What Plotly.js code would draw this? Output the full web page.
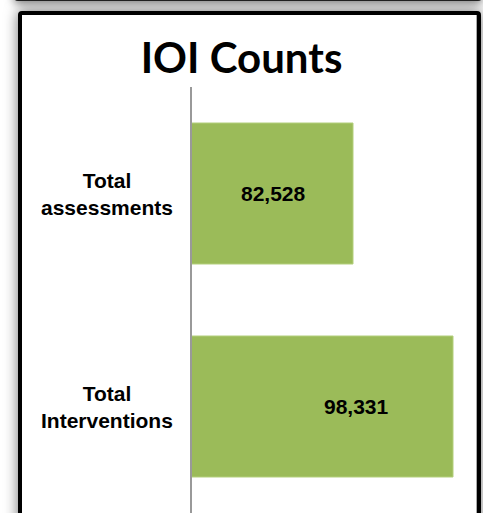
<!DOCTYPE html>
<html>
<head>
<meta charset="utf-8">
<script src="https://cdn.plot.ly/plotly-3.0.1.min.js"></script>
<style>
  html, body { margin:0; padding:0; width:483px; height:513px; overflow:hidden; background:#fff; }
  #prev { position:absolute; left:14px; top:-40px; width:462px; height:35px; border:3px solid #222; border-radius:4px; box-shadow:0 2px 10px rgba(0,0,0,0.55); background:#fff; }
  #frame { position:absolute; left:18px; top:11px; width:455px; height:600px; border:4px solid #000; border-radius:4px; box-shadow:0 0 14px rgba(0,0,0,0.55), inset -1px 0 0 #aaa; background:#fff; }
  #chart { position:absolute; left:0; top:0; width:483px; height:513px; }
</style>
</head>
<body>
<div id="prev"></div>
<div id="frame"></div>
<div id="chart"></div>
<script>
const categories = ['Total<br>assessments', 'Total<br>Interventions'];
const values = [82528, 98331];
const valueLabels = ['82,528', '98,331'];
const chartTitle = 'IOI Counts';

const labelFont = { family: 'Liberation Sans, Arial, sans-serif', size: 21, color: '#000', weight: 'bold' };
const valueShift = [-80, -97];

const annotations = [];
categories.forEach((c, i) => {
  annotations.push({
    xref: 'paper', yref: 'y', x: -0.306, y: c,
    text: c, showarrow: false, xanchor: 'center', yanchor: 'middle', align: 'center',
    font: labelFont
  });
  annotations.push({
    xref: 'x', yref: 'y', x: values[i], y: c,
    text: valueLabels[i], showarrow: false, xanchor: 'center', yanchor: 'middle',
    xshift: valueShift[i], font: labelFont
  });
});

const data = [{
  type: 'bar',
  orientation: 'h',
  x: values,
  y: categories,
  marker: { color: '#9BBB59', line: { color: '#b3cf7c', width: 1 } },
  hoverinfo: 'none'
}];

const layout = {
  width: 483, height: 513,
  margin: { l: 192, r: 13, t: 87, b: 0, pad: 0 },
  paper_bgcolor: 'rgba(0,0,0,0)',
  plot_bgcolor: 'rgba(0,0,0,0)',
  showlegend: false,
  bargap: 0.338,
  title: {
    text: chartTitle,
    font: { family: 'Lato, Calibri, sans-serif', size: 42, color: '#000', weight: 'bold' },
    x: 0.5, xref: 'container', xanchor: 'center',
    y: 1 - 58 / 513, yref: 'container', yanchor: 'middle'
  },
  xaxis: {
    range: [57085, 101017], visible: false, showgrid: false, zeroline: false, fixedrange: true
  },
  yaxis: {
    type: 'category', range: [1.5, -0.5], showticklabels: false, ticks: '',
    showline: true, linecolor: '#999', linewidth: 2, showgrid: false, zeroline: false, fixedrange: true
  },
  annotations: annotations,
  hovermode: false
};

Plotly.newPlot('chart', data, layout, { displayModeBar: false, staticPlot: true });
</script>
</body>
</html>
